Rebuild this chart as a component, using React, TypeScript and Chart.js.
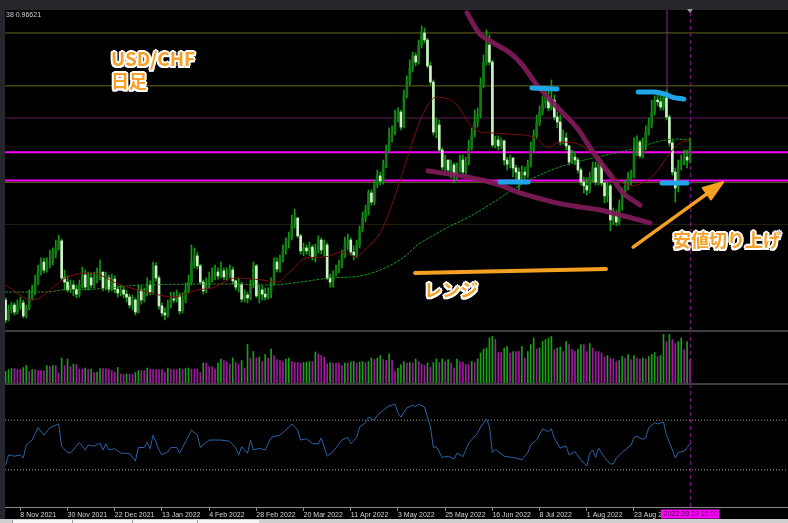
import React, { useEffect, useRef } from 'react';
import { Chart, registerables } from 'chart.js';

Chart.register(...registerables);

// USD/CHF daily, prices in units of 0.0001
const FIRST_OPEN = 9132;
const CLOSE = [
  9064, 9098, 9115, 9091, 9112, 9122, 9078, 9105, 9139, 9159,
  9190, 9227, 9261, 9234, 9258, 9261, 9288, 9309, 9333, 9207,
  9193, 9166, 9183, 9169, 9152, 9183, 9217, 9176, 9207, 9183,
  9203, 9217, 9227, 9173, 9207, 9169, 9203, 9169, 9156, 9166,
  9152, 9142, 9115, 9132, 9091, 9166, 9132, 9156, 9183, 9159,
  9248, 9207, 9112, 9088, 9081, 9115, 9135, 9132, 9146, 9095,
  9132, 9166, 9193, 9261, 9282, 9248, 9193, 9163, 9183, 9207,
  9214, 9227, 9214, 9231, 9210, 9220, 9234, 9197, 9176, 9186,
  9135, 9149, 9139, 9183, 9248, 9146, 9166, 9152, 9142, 9159,
  9193, 9261, 9237, 9268, 9302, 9329, 9343, 9387, 9411, 9350,
  9299, 9309, 9299, 9312, 9278, 9302, 9336, 9302, 9319, 9207,
  9193, 9214, 9234, 9251, 9282, 9319, 9336, 9295, 9285, 9319,
  9370, 9411, 9438, 9496, 9465, 9523, 9554, 9537, 9591, 9642,
  9683, 9703, 9751, 9771, 9720, 9829, 9873, 9921, 9962, 9941,
  9999, 10040, 10016, 9928, 9873, 9703, 9727, 9642, 9584, 9608,
  9574, 9591, 9554, 9581, 9608, 9567, 9601, 9649, 9693, 9737,
  9761, 9863, 9941, 9999, 9941, 9659, 9676, 9656, 9673, 9608,
  9594, 9615, 9581, 9567, 9540, 9567, 9557, 9591, 9642, 9693,
  9734, 9771, 9802, 9822, 9785, 9812, 9754, 9737, 9669, 9683,
  9656, 9601, 9618, 9608, 9574, 9533, 9520, 9506, 9550, 9581,
  9533, 9594, 9530, 9486, 9520, 9404, 9421, 9397, 9455, 9496,
  9520, 9547, 9557, 9642, 9669, 9622, 9659, 9703, 9727, 9771,
  9812, 9806, 9788, 9819, 9754, 9666, 9567, 9513, 9591, 9608,
  9618, 9608, 9652,
];
const HIGH = [
  9139, 9115, 9125, 9122, 9132, 9142, 9132, 9115, 9166, 9183,
  9217, 9251, 9275, 9275, 9275, 9302, 9309, 9336, 9353, 9339,
  9234, 9214, 9200, 9197, 9183, 9200, 9244, 9234, 9227, 9224,
  9227, 9241, 9268, 9227, 9227, 9217, 9220, 9214, 9180, 9183,
  9176, 9166, 9152, 9149, 9139, 9183, 9180, 9173, 9207, 9197,
  9261, 9258, 9214, 9122, 9105, 9132, 9159, 9159, 9166, 9156,
  9156, 9190, 9217, 9319, 9309, 9295, 9254, 9200, 9207, 9227,
  9241, 9251, 9241, 9261, 9241, 9241, 9251, 9244, 9200, 9207,
  9193, 9166, 9159, 9200, 9261, 9254, 9183, 9180, 9173, 9173,
  9207, 9275, 9275, 9285, 9319, 9343, 9363, 9421, 9441, 9411,
  9356, 9326, 9319, 9329, 9319, 9322, 9350, 9343, 9336, 9326,
  9220, 9231, 9251, 9268, 9302, 9346, 9356, 9343, 9316, 9336,
  9384, 9431, 9455, 9506, 9506, 9540, 9574, 9567, 9608, 9659,
  9717, 9724, 9778, 9785, 9778, 9846, 9894, 9948, 9975, 9972,
  10016, 10064, 10057, 10023, 9941, 9880, 9751, 9744, 9649, 9625,
  9608, 9608, 9598, 9598, 9625, 9625, 9618, 9676, 9717, 9778,
  9785, 9887, 9965, 10050, 10033, 9948, 9690, 9690, 9683, 9676,
  9618, 9625, 9615, 9591, 9581, 9588, 9584, 9608, 9669, 9710,
  9761, 9792, 9826, 9846, 9853, 9880, 9829, 9771, 9761, 9710,
  9700, 9659, 9642, 9635, 9615, 9581, 9550, 9547, 9567, 9601,
  9601, 9615, 9608, 9530, 9533, 9526, 9445, 9438, 9472, 9513,
  9540, 9567, 9574, 9683, 9690, 9676, 9683, 9724, 9751, 9812,
  9826, 9832, 9829, 9839, 9846, 9761, 9676, 9581, 9608, 9625,
  9642, 9642, 9683,
];
const LOW = [
  9054, 9061, 9088, 9081, 9084, 9101, 9071, 9071, 9098, 9132,
  9149, 9183, 9217, 9224, 9227, 9241, 9251, 9275, 9302, 9200,
  9166, 9159, 9156, 9146, 9139, 9142, 9173, 9166, 9166, 9173,
  9173, 9190, 9200, 9163, 9166, 9159, 9163, 9156, 9142, 9146,
  9139, 9125, 9105, 9098, 9081, 9088, 9118, 9125, 9146, 9149,
  9152, 9197, 9101, 9078, 9064, 9074, 9105, 9122, 9125, 9084,
  9088, 9122, 9156, 9183, 9241, 9237, 9186, 9152, 9156, 9173,
  9193, 9200, 9203, 9207, 9200, 9200, 9207, 9186, 9166, 9159,
  9125, 9125, 9122, 9132, 9173, 9139, 9122, 9132, 9132, 9135,
  9139, 9183, 9227, 9227, 9261, 9288, 9309, 9336, 9377, 9343,
  9288, 9282, 9288, 9282, 9268, 9261, 9292, 9288, 9282, 9200,
  9176, 9176, 9214, 9224, 9241, 9275, 9302, 9285, 9268, 9275,
  9309, 9363, 9397, 9421, 9455, 9455, 9513, 9523, 9526, 9581,
  9635, 9669, 9693, 9737, 9710, 9717, 9819, 9863, 9907, 9928,
  9934, 9989, 10006, 9921, 9863, 9693, 9683, 9635, 9574, 9567,
  9560, 9547, 9530, 9540, 9567, 9557, 9557, 9591, 9642, 9686,
  9720, 9751, 9853, 9931, 9931, 9652, 9649, 9642, 9646, 9591,
  9574, 9581, 9550, 9533, 9496, 9547, 9543, 9547, 9584, 9635,
  9683, 9724, 9761, 9785, 9775, 9778, 9744, 9717, 9659, 9662,
  9642, 9591, 9598, 9591, 9564, 9523, 9496, 9489, 9496, 9533,
  9523, 9523, 9520, 9462, 9465, 9367, 9387, 9384, 9387, 9438,
  9482, 9506, 9523, 9547, 9622, 9615, 9615, 9642, 9693, 9717,
  9761, 9792, 9778, 9778, 9744, 9656, 9557, 9465, 9499, 9574,
  9591, 9581, 9598,
];
// tick volume (hundreds)
const VOLUME = [
  23, 27, 29, 29, 27, 27, 31, 35, 23, 27,
  27, 25, 25, 25, 35, 33, 35, 35, 20, 50,
  35, 48, 33, 38, 37, 28, 28, 30, 27, 28,
  21, 22, 29, 29, 29, 28, 25, 22, 31, 18,
  17, 18, 18, 17, 21, 25, 25, 25, 30, 28,
  27, 27, 27, 27, 21, 30, 27, 27, 27, 29,
  27, 29, 30, 28, 28, 28, 21, 40, 40, 33,
  33, 28, 40, 48, 45, 43, 38, 50, 41, 37,
  45, 30, 77, 50, 63, 50, 52, 43, 57, 50,
  68, 55, 47, 45, 43, 48, 50, 43, 41, 41,
  40, 41, 42, 43, 43, 62, 58, 55, 52, 39,
  41, 40, 40, 40, 35, 40, 40, 42, 43, 40,
  42, 43, 41, 43, 50, 47, 50, 55, 47, 45,
  58, 46, 24, 30, 37, 43, 40, 41, 40, 48,
  43, 38, 35, 40, 32, 41, 48, 41, 48, 43,
  47, 40, 30, 48, 43, 42, 37, 37, 43, 41,
  48, 60, 68, 70, 90, 93, 87, 61, 61, 70,
  73, 60, 63, 63, 63, 73, 50, 63, 77, 90,
  68, 70, 83, 87, 90, 93, 67, 70, 72, 63,
  83, 77, 67, 63, 68, 77, 77, 63, 79, 70,
  63, 63, 60, 52, 55, 50, 48, 43, 45, 53,
  50, 57, 47, 55, 50, 48, 50, 48, 53, 57,
  61, 53, 55, 97, 83, 97, 87, 79, 83, 90,
  67, 83, 47,
];
// oscillator readings [bar index, value]
const OSC = [
  [0, 34], [1, 42], [3, 41], [5, 42], [6, 39.5], [7, 50], [9, 54], [11, 64], [13, 58], [15, 64],
  [18, 67], [19, 49], [21, 44], [22, 43.5], [25, 52], [27, 46], [28, 50], [30, 49], [32, 51.6], [33, 46],
  [34, 51], [35, 46], [37, 47], [39, 43.5], [42, 43], [44, 37], [45, 48], [47, 48], [48, 52], [49, 47],
  [50, 58], [52, 46], [53, 42], [55, 44.6], [56, 48], [58, 48], [59, 43.5], [60, 48], [63, 62], [65, 58],
  [66, 48], [69, 54], [73, 54], [76, 53], [78, 47.5], [79, 42], [80, 48.6], [82, 43.3], [83, 54], [84, 46],
  [86, 47.3], [88, 46], [90, 56], [93, 58], [95, 62], [97, 67], [99, 62], [100, 54], [102, 55], [104, 51],
  [106, 51], [107, 55.6], [109, 41], [111, 44.6], [114, 54], [116, 56], [117, 51], [119, 56], [120, 64.5], [122, 68],
  [123, 72.5], [125, 70], [126, 74], [129, 80], [130, 81.4], [132, 83], [133, 76], [134, 72.5], [136, 80], [138, 82],
  [139, 81], [140, 83], [142, 80.6], [144, 64.5], [145, 48], [146, 48.6], [148, 40], [150, 41], [152, 38.7], [153, 43.5],
  [155, 40.6], [157, 51.6], [160, 59.6], [161, 64.5], [163, 71], [164, 65], [165, 44], [166, 46.5], [169, 41], [173, 39.5],
  [175, 38], [177, 44], [178, 50], [180, 54], [182, 63], [184, 60.7], [185, 63], [186, 55.6], [188, 47.5], [190, 49.2],
  [191, 42], [193, 44.6], [195, 38], [197, 33], [198, 43.5], [199, 46], [200, 40], [201, 47.5], [203, 40], [205, 34.7],
  [206, 34.7], [207, 39.5], [209, 44], [212, 50], [213, 56], [214, 57], [216, 54.6], [217, 56], [218, 64], [220, 68],
  [221, 67], [223, 68.5], [224, 58], [226, 46], [227, 39.5], [228, 44], [230, 45], [231, 48], [232, 51],
];
const OSC_LEVELS = [70, 30];
// moving averages [bar index, price]
const MA_FAST = [
  [0, 9183], [9, 9132], [21, 9210], [29, 9224], [39, 9183], [48, 9159], [57, 9142], [65, 9166], [70, 9173], [78, 9207],
  [87, 9200], [92, 9193], [96, 9224], [102, 9275], [108, 9278], [114, 9295], [119, 9278], [121, 9295], [126, 9346], [128, 9380],
  [133, 9516], [137, 9642], [141, 9754], [146, 9822], [150, 9815], [153, 9795], [157, 9734], [161, 9703], [165, 9700], [171, 9696],
  [179, 9686], [184, 9652], [188, 9669], [195, 9659], [199, 9625], [204, 9581], [208, 9537], [212, 9520], [215, 9526], [220, 9560],
  [224, 9615], [228, 9662], [232, 9676],
];
const MA_SLOW = [
  [0, 9159], [14, 9159], [19, 9166], [30, 9169], [38, 9176], [46, 9183], [77, 9186], [90, 9183], [100, 9193], [110, 9207],
  [119, 9212], [127, 9234], [135, 9278], [140, 9322], [144, 9346], [150, 9380], [157, 9414], [165, 9462], [175, 9526], [185, 9574],
  [195, 9605], [205, 9628], [215, 9652], [222, 9673], [227, 9679], [232, 9676],
];
// horizontal price levels
const LEVELS = [10040, 9860, 9751, 9652, 9634, 9538, 9532, 9389];
// hand-drawn annotations [bar index, price]
const TREND_UPPER = [
  [156.4, 10108], [160.8, 10036], [165.3, 10006], [171, 9972], [175.4, 9928], [180.1, 9863],
  [186.9, 9788], [193.7, 9717], [199.1, 9635], [204.9, 9557], [209.3, 9496], [215, 9455],
];
const TREND_LOWER = [
  [143.2, 9571], [156.4, 9550], [167.6, 9523], [174.4, 9496], [185.6, 9465], [194.7, 9448],
  [201.5, 9438], [208.3, 9421], [218.4, 9394],
];
const MARK_HIGH_1 = [[178.4, 9853], [186.9, 9849]];
const MARK_LOW_1 = [[167.6, 9533], [177.1, 9533]];
const MARK_HIGH_2 = [[214.4, 9839], [220.1, 9839], [223.5, 9832], [225.9, 9822], [229.9, 9815]];
const MARK_LOW_2 = [[222.5, 9530], [230.9, 9530]];
const RANGE_LINE = [[138.8, 9224], [203.5, 9237]];
const ARROW_SHAFT = [[212.7, 9312], [238.5, 9499]];
const ARROW_HEAD = [[243.2, 9533], [236.3, 9513], [239.1, 9474], [243.2, 9533]];
const MARKER_LINE = [[224.2, 9836], [224.2, 10118]];
const CURRENT_BAR = 232.2;

const TICK_INDEX = [5, 21, 37, 53, 69, 85, 101, 117, 133, 149, 165, 181, 197, 213];
const TICK_LABELS = [
  '8 Nov 2021', '30 Nov 2021', '22 Dec 2021', '13 Jan 2022', '4 Feb 2022', '28 Feb 2022', '20 Mar 2022',
  '11 Apr 2022', '3 May 2022', '25 May 2022', '16 Jun 2022', '8 Jul 2022', '1 Aug 2022', '23 Aug 2022',
];
const LAST_TIME = '2022.09.19 15:00';
const INFO_TEXT = '38 0.96621';

const X_MIN = -0.2;
const X_MAX = 265.2;
const PRICE_MIN = 9026.6;
const PRICE_MAX = 10118;
const VOL_MAX = 100;

const P = (v: number) => v / 10000;
const pts = (arr: number[][]) => arr.map(([x, y]) => ({ x, y: P(y) }));

const LEVEL_STYLE = [
  { c: '#66661a', w: 1 },
  { c: '#66661a', w: 1 },
  { c: '#5a1a5a', w: 1 },
  { c: '#1e1e1e', w: 1 },
  { c: '#ff00ff', w: 2 },
  { c: '#ff00ff', w: 2 },
  { c: '#66661a', w: 1 },
  { c: '#22220c', w: 1 },
];

function lineDs(data: any[], color: string, width: number, order: number, extra: any = {}) {
  return {
    type: 'line',
    data,
    borderColor: color,
    borderWidth: width,
    pointRadius: 0,
    fill: false,
    order,
    borderCapStyle: 'round',
    borderJoinStyle: 'round',
    ...extra,
  };
}

const baseOptions = {
  animation: false,
  responsive: false,
  maintainAspectRatio: false,
  events: [],
  layout: { padding: 0 },
  plugins: { legend: { display: false }, tooltip: { enabled: false } },
};

export default function App() {
  const mainRef = useRef<HTMLCanvasElement>(null);
  const volRef = useRef<HTMLCanvasElement>(null);
  const oscRef = useRef<HTMLCanvasElement>(null);

  useEffect(() => {
    const charts: Chart[] = [];
    const opens = CLOSE.map((c, i) => (i === 0 ? FIRST_OPEN : CLOSE[i - 1]));
    const up = CLOSE.map((c, i) => c >= opens[i]);

    const levelSets = LEVELS.map((lv, k) =>
      lineDs([{ x: X_MIN, y: P(lv) }, { x: X_MAX, y: P(lv) }], LEVEL_STYLE[k].c, LEVEL_STYLE[k].w, 8, { borderCapStyle: 'butt' })
    );

    const mainDatasets: any[] = [
      lineDs(pts(ARROW_HEAD), '#f5a020', 2, 0, { fill: 'shape', backgroundColor: '#f5a020', tension: 0 }),
      lineDs(pts(ARROW_SHAFT), '#f5a020', 3.5, 0),
      lineDs(pts(RANGE_LINE), '#f5a020', 4, 0),
      lineDs(pts(MARK_HIGH_1), '#1ea6e6', 5, 1),
      lineDs(pts(MARK_LOW_1), '#1ea6e6', 5, 1),
      lineDs(pts(MARK_HIGH_2), '#1ea6e6', 5, 1, { tension: 0.3 }),
      lineDs(pts(MARK_LOW_2), '#1ea6e6', 5, 1),
      lineDs(pts(TREND_UPPER), 'rgba(128,26,88,0.92)', 5, 2, { tension: 0.35 }),
      lineDs(pts(TREND_LOWER), 'rgba(128,26,88,0.92)', 5, 2, { tension: 0.35 }),
      lineDs(pts(MA_FAST), '#7d0f0f', 1, 3, { cubicInterpolationMode: 'monotone' }),
      lineDs(pts(MA_SLOW), '#1c9a1c', 1, 3, { cubicInterpolationMode: 'monotone', borderDash: [2, 2] }),
      {
        type: 'bar',
        data: CLOSE.map((c, i) => ({ x: i, y: [P(opens[i]), P(c)] })),
        backgroundColor: up.map((u) => (u ? '#127a12' : '#ccf2c4')),
        borderWidth: 0,
        barThickness: 2,
        minBarLength: 1,
        grouped: false,
        order: 4,
      },
      {
        type: 'bar',
        data: CLOSE.map((c, i) => ({
          x: i,
          y: [P(Math.min(LOW[i], opens[i], c)), P(Math.max(HIGH[i], opens[i], c))],
        })),
        backgroundColor: '#149a14',
        borderWidth: 0,
        barThickness: 1,
        grouped: false,
        order: 5,
      },
      lineDs(pts(MARKER_LINE), '#8a2a9a', 1, 6, { borderCapStyle: 'butt' }),
      lineDs(
        [{ x: CURRENT_BAR, y: P(PRICE_MIN) }, { x: CURRENT_BAR, y: P(PRICE_MAX) }],
        '#8c1a8c', 1, 6, { borderDash: [4, 3], borderCapStyle: 'butt' }
      ),
      ...levelSets,
    ];

    charts.push(
      new Chart(mainRef.current!, {
        type: 'bar',
        data: { datasets: mainDatasets },
        options: {
          ...baseOptions,
          scales: {
            x: { type: 'linear', min: X_MIN, max: X_MAX, display: false, offset: false },
            y: { type: 'linear', min: P(PRICE_MIN), max: P(PRICE_MAX), display: false, beginAtZero: false },
          },
        } as any,
      })
    );

    const volColors = VOLUME.map((v, i) => (i === 0 || v > VOLUME[i - 1] ? '#19a019' : '#a21aa2'));
    charts.push(
      new Chart(volRef.current!, {
        type: 'bar',
        data: {
          datasets: [
            {
              type: 'bar',
              data: VOLUME.map((v, i) => ({ x: i, y: v })),
              backgroundColor: volColors,
              borderWidth: 0,
              barThickness: 1,
              grouped: false,
              order: 1,
            } as any,
            lineDs([{ x: CURRENT_BAR, y: 0 }, { x: CURRENT_BAR, y: VOL_MAX }], '#8c1a8c', 1, 0, {
              borderDash: [4, 3],
              borderCapStyle: 'butt',
            }),
          ],
        },
        options: {
          ...baseOptions,
          scales: {
            x: { type: 'linear', min: X_MIN, max: X_MAX, display: false, offset: false },
            y: { type: 'linear', min: 0, max: VOL_MAX, display: false },
          },
        } as any,
      })
    );

    const dateBox = {
      id: 'dateBox',
      afterDraw(chart: any) {
        const ctx = chart.ctx;
        const x = chart.scales.x.getPixelForValue(CURRENT_BAR);
        ctx.save();
        ctx.font = '7px "Liberation Sans", Arial, sans-serif';
        const w = ctx.measureText(LAST_TIME).width + 4;
        const top = chart.chartArea.bottom + 2.5;
        ctx.fillStyle = '#ff00ff';
        ctx.fillRect(Math.round(x - w / 2), top, Math.round(w), 9);
        ctx.fillStyle = '#4a004a';
        ctx.textAlign = 'center';
        ctx.textBaseline = 'middle';
        ctx.fillText(LAST_TIME, Math.round(x), top + 4.7);
        ctx.restore();
      },
    };

    charts.push(
      new Chart(oscRef.current!, {
        type: 'line',
        data: {
          datasets: [
            lineDs(OSC.map(([x, y]) => ({ x, y })), '#2a62a4', 1, 0, { tension: 0 }),
            ...OSC_LEVELS.map((lv) =>
              lineDs([{ x: X_MIN, y: lv }, { x: X_MAX, y: lv }], '#9a9a9a', 1, 2, { borderDash: [1, 2], borderCapStyle: 'butt' })
            ),
            lineDs([{ x: CURRENT_BAR, y: 0 }, { x: CURRENT_BAR, y: 100 }], '#8c1a8c', 1, 1, {
              borderDash: [4, 3],
              borderCapStyle: 'butt',
            }),
          ] as any,
        },
        options: {
          ...baseOptions,
          scales: {
            x: {
              type: 'linear',
              min: X_MIN,
              max: X_MAX,
              offset: false,
              afterBuildTicks: (scale: any) => {
                scale.ticks = TICK_INDEX.map((v) => ({ value: v }));
              },
              afterFit: (scale: any) => {
                scale.height = 12;
              },
              ticks: {
                autoSkip: false,
                maxRotation: 0,
                minRotation: 0,
                align: 'start',
                padding: 0,
                color: '#d2d2d2',
                font: { family: '"Liberation Sans", Arial, sans-serif', size: 7 },
                callback: (v: any) => {
                  const k = TICK_INDEX.indexOf(v);
                  return k >= 0 ? TICK_LABELS[k] : '';
                },
              },
              grid: { display: true, drawOnChartArea: false, drawTicks: true, tickLength: 4, color: '#8a8a8a', lineWidth: 1 },
              border: { display: true, color: '#8a8a8a', width: 1 },
            },
            y: { type: 'linear', min: 0, max: 100, display: false },
          },
        } as any,
        plugins: [dateBox],
      })
    );

    return () => charts.forEach((c) => c.destroy());
  }, []);

  const note: React.CSSProperties = {
    position: 'absolute',
    color: '#f7a12a',
    fontFamily: '"Noto Sans CJK JP", sans-serif',
    fontWeight: 700,
    fontSize: 18,
    lineHeight: '20px',
    whiteSpace: 'nowrap',
    textShadow:
      '-1.5px -1.5px 0 #fff, 1.5px -1.5px 0 #fff, -1.5px 1.5px 0 #fff, 1.5px 1.5px 0 #fff, 0 -2px 0 #fff, 0 2px 0 #fff, -2px 0 0 #fff, 2px 0 0 #fff, 1px 2px 3px rgba(0,0,0,0.7)',
  };

  return (
    <div style={{ position: 'absolute', left: 0, top: 0, width: 788, height: 523, background: '#25272c', overflow: 'hidden' }}>
      <div style={{ position: 'absolute', left: 5, top: 10, width: 783, height: 509, background: '#000' }} />
      <canvas ref={mainRef} width={783} height={321} style={{ position: 'absolute', left: 5, top: 10, width: 783, height: 321 }} />
      <div style={{ position: 'absolute', left: 5, top: 330, width: 783, height: 2, background: '#3e3e3e' }} />
      <canvas ref={volRef} width={783} height={50} style={{ position: 'absolute', left: 5, top: 333, width: 783, height: 50 }} />
      <canvas ref={oscRef} width={783} height={136} style={{ position: 'absolute', left: 5, top: 383, width: 783, height: 136 }} />
      <div style={{ position: 'absolute', left: 5, top: 383, width: 783, height: 2, background: '#3e3e3e' }} />
      <div
        style={{
          position: 'absolute', left: 6, top: 11, color: '#cfcfcf', fontSize: 7,
          fontFamily: '"Liberation Sans", Arial, sans-serif', lineHeight: '8px',
        }}
      >
        {INFO_TEXT}
      </div>
      <div
        style={{
          position: 'absolute', left: 687, top: 9, width: 0, height: 0,
          borderLeft: '3px solid transparent', borderRight: '3px solid transparent', borderTop: '4px solid #9a9a9a',
        }}
      />
      <div style={{ ...note, left: 111, top: 48, fontSize: 19 }}>USD/CHF</div>
      <div style={{ ...note, left: 111, top: 70 }}>日足</div>
      <div style={{ ...note, left: 424, top: 279 }}>レンジ</div>
      <div style={{ ...note, left: 673, top: 229 }}>安値切り上げ</div>
      <div style={{ position: 'absolute', left: 0, top: 519, width: 788, height: 4, background: '#cfcfcf' }}>
        {[12, 72, 132, 197].map((l, k) => (
          <div
            key={k}
            style={{ position: 'absolute', left: l, top: 1, width: k === 3 ? 61 : l === 132 ? 65 : 60, height: 3, background: '#f4f4f4', borderLeft: '1px solid #9a9a9a' }}
          />
        ))}
      </div>
    </div>
  );
}
